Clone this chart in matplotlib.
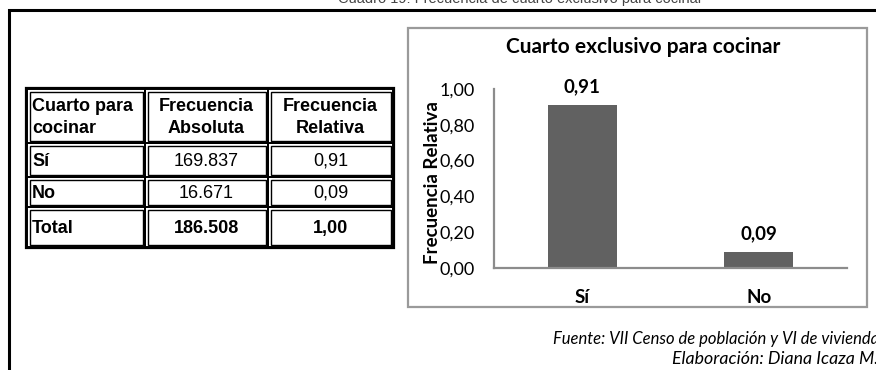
import matplotlib
matplotlib.use("Agg")
import matplotlib.pyplot as plt
from matplotlib.patches import Rectangle

# ---- data ----
categories = ["Sí", "No"]
absolute = [169837, 16671]
relative = [0.91, 0.09]
total_label = "Total"
total_absolute = 186508
total_relative = 1.00
header = ["Cuarto para\ncocinar", "Frecuencia\nAbsoluta", "Frecuencia\nRelativa"]
yticks = [0.0, 0.2, 0.4, 0.6, 0.8, 1.0]
chart_title = "Cuarto exclusivo para cocinar"
ylabel = "Frecuencia Relativa"
page_title = "Cuadro 19: Frecuencia de cuarto exclusivo para cocinar"
source = "Fuente: VII Censo de población y VI de vivienda"
author = "Elaboración: Diana Icaza M."


def fmt_int(v):
    return f"{v:,}".replace(",", ".")


def fmt_dec(v):
    return f"{v:.2f}".replace(".", ",")


W, H = 876, 370
fig = plt.figure(figsize=(W / 100, H / 100), dpi=100)
bg = fig.add_axes([0, 0, 1, 1])
bg.set_xlim(0, W)
bg.set_ylim(H, 0)
bg.axis("off")

# page title, cut off at the very top as in the reference
bg.text(520, 3, page_title, ha="center", va="baseline", fontsize=10.5,
        family="Liberation Sans", color="#444444")

# outer black frame
bg.plot([9, 9, W + 5], [H + 5, 10, 10], color="black", lw=2.2,
        solid_joinstyle="miter")

# ---- table ----
col_x = [27, 145, 268, 393]
row_y = [89, 143, 177, 207, 247]
rows = [header]
for c, a, r in zip(categories, absolute, relative):
    rows.append([c, fmt_int(a), fmt_dec(r)])
rows.append([total_label, fmt_int(total_absolute), fmt_dec(total_relative)])

bg.add_patch(Rectangle((col_x[0] - 1, row_y[0] - 1), col_x[-1] - col_x[0] + 2,
                       row_y[-1] - row_y[0] + 2, fill=False, ec="black", lw=1.6))
for ri in range(len(rows)):
    for ci in range(3):
        x0, x1 = col_x[ci], col_x[ci + 1]
        y0, y1 = row_y[ri], row_y[ri + 1]
        bg.add_patch(Rectangle((x0, y0), x1 - x0, y1 - y0, fill=False,
                               ec="black", lw=1.4))
        bg.add_patch(Rectangle((x0 + 2.5, y0 + 2.5), x1 - x0 - 5, y1 - y0 - 5,
                               fill=False, ec="black", lw=1.0))
        txt = rows[ri][ci]
        bold = ri == 0 or ci == 0 or ri == len(rows) - 1
        cy = (y0 + y1) / 2 + 1.5
        if ci == 0:
            bg.text(x0 + 5, cy, txt, ha="left", va="center", fontsize=13,
                    family="Liberation Sans",
                    fontweight="bold" if bold else "normal", linespacing=1.4)
        else:
            bg.text((x0 + x1) / 2, cy, txt, ha="center", va="center", fontsize=13,
                    family="Liberation Sans",
                    fontweight="bold" if bold else "normal", linespacing=1.4)

# ---- chart panel ----
bg.add_patch(Rectangle((408, 28), 867 - 408, 307 - 28, fill=False,
                       ec="#9a9a9a", lw=1.6))
bg.text(643, 47, chart_title, ha="center", va="center", fontsize=15,
        family="Lato", fontweight="bold")

ax_l, ax_r, ax_t, ax_b = 494, 847, 89, 268
ax = fig.add_axes([ax_l / W, (H - ax_b) / H, (ax_r - ax_l) / W, (ax_b - ax_t) / H])
ax.patch.set_alpha(0)
xpos = list(range(len(categories)))
ax.bar(xpos, relative, width=0.39, color="#616161")
ax.set_xlim(-0.5, len(categories) - 0.5)
ax.set_ylim(0, 1.0)
ax.set_yticks(yticks)
ax.set_yticklabels([fmt_dec(v) for v in yticks], family="Lato", fontsize=13)
ax.set_xticks(xpos)
ax.set_xticklabels(categories, family="Lato", fontsize=13.5, fontweight="bold")
ax.tick_params(axis="both", length=0)
ax.tick_params(axis="y", pad=14)
ax.tick_params(axis="x", pad=15)
for s in ["top", "right"]:
    ax.spines[s].set_visible(False)
for s in ["left", "bottom"]:
    ax.spines[s].set_color("#8c8c8c")
    ax.spines[s].set_linewidth(1.6)
for x, v in zip(xpos, relative):
    ax.annotate(fmt_dec(v), (x, v), xytext=(0, 13), textcoords="offset points",
                ha="center", va="center", family="Lato", fontsize=13.5,
                fontweight="bold")
ax.set_ylabel(ylabel, family="Lato", fontsize=13.5, fontweight="bold")
ax.yaxis.set_label_coords((441 - ax_l) / (ax_r - ax_l), (ax_b - 183) / (ax_b - ax_t))

# ---- footer ----
bg.text(553, 339, source, ha="left", va="center", fontsize=12, family="Lato",
        style="italic")
bg.text(672, 359, author, ha="left", va="center", fontsize=12.8, family="Lato",
        style="italic")

fig.savefig("out.png", dpi=100)
